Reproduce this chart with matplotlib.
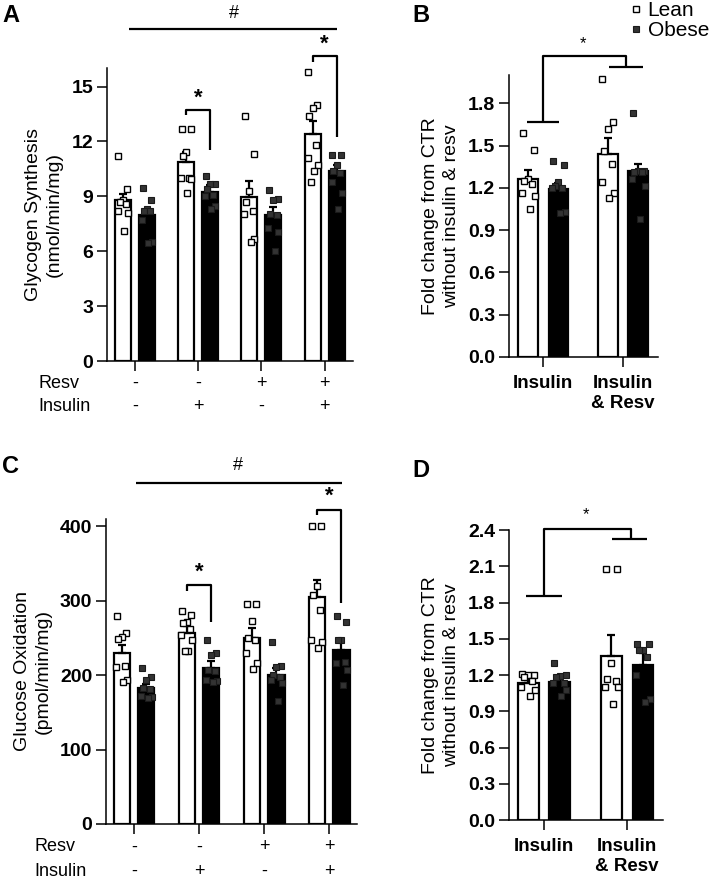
import numpy as np
import matplotlib.pyplot as plt
from matplotlib.lines import Line2D
from matplotlib.transforms import blended_transform_factory

plt.rcParams['font.family'] = ['Liberation Sans', 'DejaVu Sans']

# ---- datos panel A: sintesis de glucogeno (nmol/min/mg)
resv_signos = ['-', '-', '+', '+']
insulina_signos = ['-', '+', '-', '+']

a_lean_media = [8.81, 10.87, 8.96, 12.42]
a_lean_sem = [0.33, 0.53, 0.87, 0.72]
a_obese_media = [7.96, 9.23, 7.96, 10.38]
a_obese_sem = [0.31, 0.37, 0.45, 0.36]
a_lean_pts = [[11.2, 9.4, 8.8, 8.7, 8.6, 8.2, 8.1, 7.1],
              [12.7, 12.7, 11.4, 11.2, 10.0, 10.0, 9.95, 9.2],
              [13.4, 11.3, 9.3, 8.7, 8.2, 8.05, 6.7, 6.5],
              [15.8, 14.0, 13.8, 13.4, 11.8, 11.1, 10.7, 10.4, 9.8]]
a_obese_pts = [[9.45, 8.8, 8.3, 8.2, 8.2, 7.7, 6.5, 6.45],
               [10.1, 9.7, 9.65, 9.4, 9.1, 9.0, 8.5, 8.3],
               [9.35, 8.85, 8.8, 8.05, 8.0, 7.25, 7.05, 6.0],
               [11.25, 11.25, 10.7, 10.4, 10.3, 9.8, 9.2, 8.3]]

# ---- datos panel B: fold change sintesis
b_categorias = ['Insulin', 'Insulin\n& Resv']
b_lean_media = [1.265, 1.442]
b_lean_sem = [0.062, 0.113]
b_obese_media = [1.19, 1.32]
b_obese_sem = [0.045, 0.047]
b_lean_pts = [[1.59, 1.47, 1.26, 1.25, 1.23, 1.16, 1.14, 1.05],
              [1.97, 1.67, 1.62, 1.46, 1.37, 1.24, 1.16, 1.13]]
b_obese_pts = [[1.39, 1.36, 1.24, 1.21, 1.2, 1.2, 1.03, 1.02],
               [1.73, 1.32, 1.32, 1.31, 1.31, 1.26, 1.21, 0.98]]

# ---- datos panel C: oxidacion de glucosa (pmol/min/mg)
c_lean_media = [229.6, 257.4, 249.8, 304.5]
c_lean_sem = [11.2, 9.0, 13.4, 23.5]
c_obese_media = [182.5, 210.3, 200.4, 234.0]
c_obese_sem = [6.0, 9.4, 9.0, 11.3]
c_lean_pts = [[279, 257, 252, 249, 212, 211, 193, 191],
              [286, 281, 271, 270, 262, 254, 248, 233, 232],
              [296, 296, 273, 250, 247, 230, 217, 209],
              [401, 401, 320, 308, 287, 247, 245, 236]]
c_obese_pts = [[210, 197, 193, 183, 182, 172, 171, 170],
               [248, 230, 227, 207, 206, 193, 192, 191],
               [245, 212, 211, 200, 198, 193, 189, 165],
               [280, 272, 248, 247, 218, 217, 207, 187]]

# ---- datos panel D: fold change oxidacion
d_lean_media = [1.13, 1.36]
d_lean_sem = [0.03, 0.17]
d_obese_media = [1.145, 1.283]
d_obese_sem = [0.03, 0.096]
d_lean_pts = [[1.21, 1.2, 1.2, 1.18, 1.15, 1.1, 1.08, 1.03],
              [2.08, 2.08, 1.3, 1.17, 1.15, 1.1, 1.1, 0.96]]
d_obese_pts = [[1.3, 1.2, 1.19, 1.18, 1.13, 1.13, 1.08, 1.03],
               [1.46, 1.46, 1.41, 1.41, 1.35, 1.2, 1.0, 0.98]]

OFF = 0.19
ANCHO = 0.25
LW = 1.6
GRIS = '#333333'
jitter = np.array([-0.07, 0.07, 0.0, -0.05, 0.05, -0.08, 0.08, 0.02, -0.02])


def dibujar_barras(ax, lm, le, om, oe, lp, op):
    x = np.arange(len(lm))
    n = len(lm)
    ax.bar(x - OFF, lm, width=ANCHO, color='white', edgecolor='black', linewidth=LW, zorder=2)
    ax.bar(x + OFF, om, width=ANCHO, color='black', edgecolor='black', linewidth=LW, zorder=2)
    ax.errorbar(x - OFF, lm, yerr=[np.zeros(n), le], fmt='none', ecolor='black',
                elinewidth=LW, capsize=3, capthick=LW, zorder=3)
    ax.errorbar(x + OFF, om, yerr=[np.zeros(n), oe], fmt='none', ecolor='black',
                elinewidth=LW, capsize=3, capthick=LW, zorder=3)
    for i in range(n):
        pts = lp[i]
        ax.plot(x[i] - OFF + jitter[:len(pts)], pts, 's', ms=4.3, mfc='white',
                mec='black', mew=1.0, zorder=4, clip_on=False)
        pts = op[i]
        ax.plot(x[i] + OFF + jitter[:len(pts)], pts, 's', ms=4.3, mfc=GRIS,
                mec='#1a1a1a', mew=0.8, zorder=4, clip_on=False)


def estilo(ax, ylim, yticks, fmt, xlim, ylabel):
    for s in ['top', 'right']:
        ax.spines[s].set_visible(False)
    for s in ['left', 'bottom']:
        ax.spines[s].set_linewidth(1.1)
    ax.set_ylim(*ylim)
    ax.set_xlim(*xlim)
    ax.set_yticks(yticks)
    ax.set_yticklabels([fmt.format(t) for t in yticks], fontsize=14, fontweight='bold')
    ax.tick_params(axis='both', direction='out', length=7, width=1.1, pad=3)
    ax.set_ylabel(ylabel, fontsize=14, labelpad=6, linespacing=1.3)


def linea(ax, xs, ys):
    ax.plot(xs, ys, color='black', lw=1.6, clip_on=False, solid_capstyle='butt', zorder=5)


def filas_signos(ax, xtexto):
    tr = blended_transform_factory(ax.transData, ax.transAxes)
    ax.text(xtexto, -0.075, 'Resv', transform=ax.transAxes, fontsize=13, ha='left', va='center')
    ax.text(xtexto, -0.155, 'Insulin', transform=ax.transAxes, fontsize=13, ha='left', va='center')
    for i in range(len(resv_signos)):
        ax.text(i, -0.075, resv_signos[i], transform=tr, fontsize=13, ha='center', va='center')
        ax.text(i, -0.155, insulina_signos[i], transform=tr, fontsize=13, ha='center', va='center')


fig = plt.figure(figsize=(7.14, 8.81), dpi=100)
axA = fig.add_axes([0.150, 0.590, 0.3445, 0.3326])
axB = fig.add_axes([0.713, 0.5948, 0.2087, 0.320])
axC = fig.add_axes([0.1485, 0.0647, 0.3515, 0.3462])
axD = fig.add_axes([0.7129, 0.0692, 0.2157, 0.3292])

# panel A
dibujar_barras(axA, a_lean_media, a_lean_sem, a_obese_media, a_obese_sem, a_lean_pts, a_obese_pts)
estilo(axA, (0, 16), [0, 3, 6, 9, 12, 15], '{:g}', (-0.44, 3.45),
       'Glycogen Synthesis\n(nmol/min/mg)')
axA.set_xticks(range(4))
axA.set_xticklabels([''] * 4)
filas_signos(axA, -0.28)
linea(axA, [-0.1, 3.19], [18.15, 18.15])
axA.text(1.56, 19.0, '#', fontsize=13, ha='center', va='center')
linea(axA, [1 - OFF, 1 - OFF, 1 + OFF, 1 + OFF], [13.42, 13.74, 13.74, 11.54])
axA.text(1.0, 14.35, '*', fontsize=16, fontweight='bold', ha='center', va='center')
linea(axA, [3 - OFF, 3 - OFF, 3 + OFF, 3 + OFF], [16.33, 16.64, 16.64, 12.23])
axA.text(3.0, 17.3, '*', fontsize=16, fontweight='bold', ha='center', va='center')

# panel B
dibujar_barras(axB, b_lean_media, b_lean_sem, b_obese_media, b_obese_sem, b_lean_pts, b_obese_pts)
estilo(axB, (0, 2.0), np.arange(0, 1.81, 0.3), '{:.1f}', (-0.43, 1.44),
       'Fold change from CTR\nwithout insulin & resv')
axB.set_xticks(range(2))
axB.set_xticklabels(b_categorias, fontsize=13.5, fontweight='bold', linespacing=1.25)
axB.tick_params(axis='x', pad=6)
linea(axB, [-0.2, 0.2], [1.67, 1.67])
linea(axB, [0, 0, 1.04, 1.04], [1.67, 2.135, 2.135, 2.06])
linea(axB, [0.82, 1.25], [2.06, 2.06])
axB.text(0.5, 2.22, '*', fontsize=12, ha='center', va='center')

# panel C
dibujar_barras(axC, c_lean_media, c_lean_sem, c_obese_media, c_obese_sem, c_lean_pts, c_obese_pts)
estilo(axC, (0, 410), [0, 100, 200, 300, 400], '{:g}', (-0.43, 3.43),
       'Glucose Oxidation\n(pmol/min/mg)')
axC.set_xticks(range(4))
axC.set_xticklabels([''] * 4)
filas_signos(axC, -0.287)
linea(axC, [0.03, 3.2], [459, 459])
axC.text(1.6, 482, '#', fontsize=13, ha='center', va='center')
linea(axC, [1 - OFF, 1 - OFF, 1 + OFF, 1 + OFF], [312.6, 321.5, 321.5, 270.9])
axC.text(1.0, 338, '*', fontsize=16, fontweight='bold', ha='center', va='center')
linea(axC, [3 - OFF, 3 - OFF, 3 + OFF, 3 + OFF], [415.7, 422.4, 422.4, 296.9])
axC.text(3.0, 441, '*', fontsize=16, fontweight='bold', ha='center', va='center')

# panel D
dibujar_barras(axD, d_lean_media, d_lean_sem, d_obese_media, d_obese_sem, d_lean_pts, d_obese_pts)
estilo(axD, (0, 2.4), np.arange(0, 2.41, 0.3), '{:.1f}', (-0.42, 1.43),
       'Fold change from CTR\nwithout insulin & resv')
axD.set_xticks(range(2))
axD.set_xticklabels(b_categorias, fontsize=13.5, fontweight='bold', linespacing=1.25)
axD.tick_params(axis='x', pad=6)
linea(axD, [-0.22, 0.22], [1.854, 1.854])
linea(axD, [0, 0, 1.04, 1.04], [1.854, 2.405, 2.405, 2.328])
linea(axD, [0.82, 1.24], [2.328, 2.328])
axD.text(0.5, 2.53, '*', fontsize=12, ha='center', va='center')

# letras de panel
for letra, (px, py) in zip('ABCD', [(2, 16), (412, 16), (2, 467), (412, 470)]):
    fig.text(px / 714, 1 - py / 881, letra, fontsize=17, fontweight='bold', ha='left', va='center')

# leyenda
handles = [Line2D([], [], ls='none', marker='s', ms=4.5, mfc='white', mec='black', mew=1.0),
           Line2D([], [], ls='none', marker='s', ms=4.5, mfc=GRIS, mec='#1a1a1a', mew=0.8)]
fig.legend(handles, ['Lean', 'Obese'], loc='upper left', bbox_to_anchor=(630 / 714, 1 - 1 / 881),
           frameon=False, fontsize=15, handletextpad=0.25, labelspacing=0.05,
           handlelength=0.6, borderpad=0.0, borderaxespad=0.0)

fig.savefig('out.png', dpi=100)
